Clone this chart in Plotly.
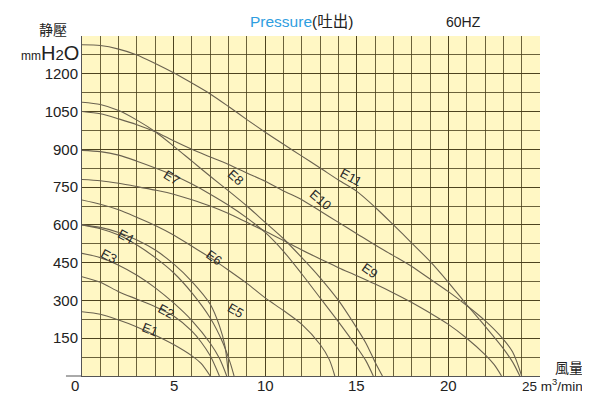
import plotly.graph_objects as go

# ---- data (flow m3/min, static pressure mmH2O) ----
E1_x = [0, 1, 2, 3, 4, 5, 6, 6.5, 7.0]
E1_y = [255, 245, 222, 195, 162, 125, 80, 50, 0]
E2_x = [0, 1, 2, 3, 4, 5, 6, 6.5, 7, 7.5]
E2_y = [394, 372, 335, 305, 275, 238, 178, 135, 80, 0]
E3_x = [0, 1, 2, 3, 4, 5, 6, 7, 7.5, 7.9]
E3_y = [487, 470, 440, 400, 350, 290, 220, 130, 70, 0]
E4_x = [0, 1, 2, 3, 4, 5, 6, 7, 7.7, 8.1, 8.3]
E4_y = [600, 585, 560, 520, 470, 410, 330, 230, 130, 50, 0]
E5_x = [0, 1, 2, 3, 4, 5, 6, 7, 7.5, 7.8, 8.0]
E5_y = [600, 590, 570, 540, 500, 445, 375, 285, 200, 120, 0]
E6_x = [0, 1, 2, 3, 4, 5, 6, 7, 8, 9, 10, 11, 12, 13, 13.5, 13.8]
E6_y = [699, 682, 660, 630, 598, 560, 515, 470, 420, 368, 310, 260, 205, 125, 65, 0]
E7_x = [0, 1, 2, 3, 4, 5, 6, 7, 8, 9, 10, 11, 12, 13, 14, 15, 15.5, 15.9]
E7_y = [896, 891, 877, 853, 826, 797, 762, 722, 678, 628, 570, 495, 405, 310, 215, 115, 60, 0]
E8_x = [0, 1, 2, 3, 4, 5, 6, 7, 8, 9, 10, 11, 12, 13, 14, 15, 15.5, 16, 16.4]
E8_y = [1087, 1078, 1054, 1016, 970, 913, 853, 793, 735, 675, 610, 545, 470, 390, 300, 190, 130, 55, 0]
E9_x = [0, 1, 2, 3, 4, 5, 6, 7, 8, 9, 10, 11, 12, 13, 14, 15, 16, 17, 18, 19, 20, 21, 22, 22.5, 22.9]
E9_y = [780, 775, 765, 752, 738, 722, 700, 675, 645, 610, 575, 538, 500, 465, 430, 398, 365, 330, 292, 250, 205, 150, 85, 45, 0]
E10_x = [0, 1, 2, 3, 4, 5, 6, 7, 8, 9, 10, 11, 12, 13, 14, 15, 16, 17, 18, 19, 20, 21, 22, 22.8, 23.5, 24.0]
E10_y = [1050, 1041, 1021, 998, 970, 934, 900, 870, 840, 806, 773, 735, 700, 655, 610, 565, 520, 478, 435, 385, 335, 280, 220, 162, 96, 0]
E11_x = [0, 1, 2, 3, 4, 5, 6, 7, 8, 9, 10, 11, 12, 13, 14, 15, 16, 17, 18, 19, 20, 21, 22, 23, 23.5, 23.9]
E11_y = [1315, 1312, 1298, 1275, 1241, 1204, 1163, 1120, 1070, 1018, 968, 920, 873, 826, 778, 733, 670, 600, 528, 455, 372, 283, 198, 109, 56, 0]

curve_names = ["E1", "E2", "E3", "E4", "E5", "E6", "E7", "E8", "E9", "E10", "E11"]
curve_x = [E1_x, E2_x, E3_x, E4_x, E5_x, E6_x, E7_x, E8_x, E9_x, E10_x, E11_x]
curve_y = [E1_y, E2_y, E3_y, E4_y, E5_y, E6_y, E7_y, E8_y, E9_y, E10_y, E11_y]

# label positions (x, y, angle)
label_x = [3.7, 4.6, 1.5, 2.4, 8.4, 7.2, 4.9, 8.4, 15.7, 13.0, 14.7]
label_y = [183, 255, 475, 555, 262, 470, 790, 790, 420, 700, 790]
label_ang = [22, 28, 28, 28, 30, 35, 32, 42, 35, 40, 28]

y_ticks = [150, 300, 450, 600, 750, 900, 1050, 1200]
x_ticks = [5, 10, 15, 20]

FONT = "Liberation Sans, Arial, Helvetica, sans-serif"
CJK = "Noto Sans CJK TC, Noto Sans CJK JP, sans-serif"
GRID = "rgba(70,60,25,0.8)"
LINE = "#6a6250"
TXT = "#222"

fig = go.Figure()
for n, xs, ys in zip(curve_names, curve_x, curve_y):
    fig.add_trace(go.Scatter(x=xs, y=ys, mode="lines", name=n,
                             line=dict(color=LINE, width=1.1, shape="spline", smoothing=0.8),
                             hoverinfo="skip", showlegend=False))

for n, lx, ly, la in zip(curve_names, label_x, label_y, label_ang):
    fig.add_annotation(x=lx, y=ly, text=n, showarrow=False, textangle=la,
                       font=dict(family=FONT, size=13, color="#2a2a2a"))

fig.update_xaxes(range=[0, 25], tickvals=x_ticks,
                 showgrid=True, gridcolor=GRID, gridwidth=1,
                 minor=dict(dtick=1, tick0=0, showgrid=True, gridcolor=GRID, gridwidth=1),
                 showline=True, linecolor="#555", linewidth=1, zeroline=False,
                 showticklabels=False, ticks="", automargin=False, fixedrange=True)
fig.update_yaxes(range=[0, 1350], tickvals=y_ticks, ticktext=[str(v) for v in y_ticks],
                 showgrid=True, gridcolor=GRID, gridwidth=1,
                 minor=dict(dtick=75, tick0=0, showgrid=True, gridcolor=GRID, gridwidth=1),
                 showline=True, linecolor="#555", linewidth=1, zeroline=False,
                 tickfont=dict(family=FONT, size=15, color=TXT), ticks="",
                 automargin=False, fixedrange=True)

# x tick labels, placed on the x scale just below the axis
for v in x_ticks:
    fig.add_annotation(x=v, xref="x", y=0, yref="paper", yshift=1, text=str(v),
                       showarrow=False, xanchor="center", yanchor="top",
                       font=dict(family=FONT, size=15, color=TXT))
fig.add_annotation(x=0, xref="x", y=0, yref="paper", xshift=-7, yshift=1, text="0",
                   showarrow=False, xanchor="center", yanchor="top",
                   font=dict(family=FONT, size=15, color=TXT))
fig.add_annotation(x=25, xref="x", y=0, yref="paper", xshift=-20, yshift=2,
                   text="25 m<sup>3</sup>/min",
                   showarrow=False, xanchor="left", yanchor="top",
                   font=dict(family=FONT, size=13.5, color=TXT))
fig.add_annotation(xref="paper", yref="paper", x=1.028, y=0, yshift=9, text="風量",
                   showarrow=False, xanchor="left", yanchor="middle",
                   font=dict(family=CJK, size=14, color=TXT))
fig.add_annotation(xref="paper", yref="paper", x=-0.028, y=1, yshift=-5, text="静壓",
                   showarrow=False, xanchor="right", yanchor="bottom",
                   font=dict(family=CJK, size=14, color=TXT))
fig.add_annotation(xref="paper", yref="paper", x=-0.002, y=0.95,
                   text="<span style='font-size:12px'>mm</span>H<span style='font-size:15px'>2</span>O",
                   showarrow=False, xanchor="right", yanchor="middle",
                   font=dict(family=FONT, size=20, color=TXT))
fig.add_annotation(xref="paper", yref="paper", x=0.48, y=1, yshift=4,
                   text="<span style='color:#2f9ee0'>Pressure</span>(吐出)",
                   showarrow=False, xanchor="center", yanchor="bottom",
                   font=dict(family=FONT + ", " + CJK, size=15.5, color=TXT))
fig.add_annotation(xref="paper", yref="paper", x=0.832, y=1, yshift=4, text="60HZ",
                   showarrow=False, xanchor="center", yanchor="bottom",
                   font=dict(family=FONT, size=14, color=TXT))
# small tick dash at the origin
fig.add_shape(type="line", xref="paper", yref="paper", x0=-0.035, x1=0, y0=0, y1=0,
              line=dict(color="#555", width=1))

# the page body adds an 8px margin, so the figure is 8px smaller than the window
fig.update_layout(width=582, height=387, margin=dict(l=74, r=50, t=28, b=19),
                  paper_bgcolor="white", plot_bgcolor="#FFF7C4")
fig.write_html("out.html")
